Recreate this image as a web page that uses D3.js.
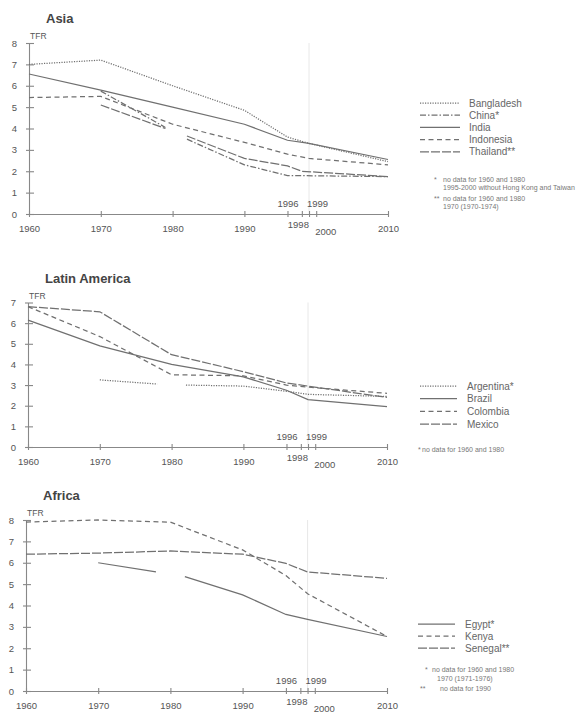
<!DOCTYPE html>
<html lang="en">
<head>
    <meta charset="UTF-8">
    <title>TFR Asia, Latin America, Africa</title>
    <style>
        body { margin: 0; background: #fff; }
        svg { font-family: "Liberation Sans", Arial, sans-serif; }
        .axis path, .axis line { stroke: #888; stroke-width: 1.1px; }
        .axis text { fill: #555; font-size: 9.5px; }
        .series { fill: none; stroke: #707070; stroke-width: 1.25px; }
        .title { font-size: 13px; font-weight: bold; fill: #444; }
        .tfr { font-size: 8.5px; fill: #555; }
        .legend text { font-size: 10px; fill: #666; }
        .note { font-size: 7px; fill: #777; }
    </style>
</head>
<body>
    <div id="chart"></div>
    <script src="https://cdn.jsdelivr.net/npm/d3@7"></script>
    <script>
        // ---- data ----
        const xTicks = [1960, 1970, 1980, 1990, 1996, 1998, 1999, 2000, 2010];
        const xLabels = [1960, 1970, 1980, 1990, 1996, 1998, 1999, 2000, 2010];

        const asiaNames = ["Bangladesh", "China*", "India", "Indonesia", "Thailand**"];
        const bangladesh = [[1960, 7.0], [1970, 7.2], [1980, 6.0], [1990, 4.85], [1996, 3.6], [1999, 3.3], [2010, 2.45]];
        const china = [[1970, 5.75], [1979, 4.05], null, [1982, 3.5], [1990, 2.3], [1996, 1.8], [2010, 1.75]];
        const india = [[1960, 6.55], [1970, 5.8], [1980, 5.0], [1990, 4.2], [1996, 3.45], [1999, 3.3], [2010, 2.55]];
        const indonesia = [[1960, 5.45], [1970, 5.5], [1980, 4.2], [1990, 3.35], [1996, 2.8], [1999, 2.6], [2010, 2.3]];
        const thailand = [[1970, 5.1], [1979, 4.0], null, [1982, 3.65], [1990, 2.6], [1996, 2.25], [1998, 2.0], [2010, 1.75]];
        const asiaNotes = [
            ["*", "no data for 1960 and 1980"],
            ["", "1995-2000 without Hong Kong and Taiwan"],
            ["**", "no data for 1960 and 1980"],
            ["", "1970 (1970-1974)"]
        ];

        const latinNames = ["Argentina*", "Brazil", "Colombia", "Mexico"];
        const argentina = [[1970, 3.25], [1978, 3.05], null, [1982, 3.0], [1990, 2.95], [1996, 2.7], [1999, 2.55], [2010, 2.45]];
        const brazil = [[1960, 6.15], [1970, 4.9], [1980, 4.0], [1990, 3.4], [1996, 2.75], [1999, 2.3], [2010, 1.95]];
        const colombia = [[1960, 6.8], [1970, 5.35], [1980, 3.5], [1990, 3.45], [1996, 3.0], [1999, 2.9], [2010, 2.6]];
        const mexico = [[1960, 6.8], [1970, 6.55], [1980, 4.47], [1990, 3.65], [1996, 3.1], [1999, 2.95], [2010, 2.4]];
        const latinNotes = [["*", "no data for 1960 and 1980"]];

        const africaNames = ["Egypt*", "Kenya", "Senegal**"];
        const egypt = [[1970, 6.0], [1978, 5.57], null, [1982, 5.35], [1990, 4.5], [1996, 3.58], [1999, 3.35], [2010, 2.55]];
        const kenya = [[1960, 7.9], [1970, 8.0], [1980, 7.9], [1990, 6.6], [1996, 5.4], [1999, 4.55], [2010, 2.55]];
        const senegal = [[1960, 6.4], [1970, 6.45], [1980, 6.55], [1990, 6.4], [1996, 5.97], [1999, 5.57], [2010, 5.27]];
        const africaNotes = [
            ["*", "no data for 1960 and 1980"],
            ["", "1970 (1971-1976)"],
            ["**", "no data for 1990"]
        ];

        // line looks
        const dash = {
            dotted: "1.2,1.3",
            dashdot: "6,2,1.5,2",
            solid: null,
            dashed: "5,3.5",
            longdash: "9,2"
        };

        const panels = [
            {
                title: "Asia", yMax: 8, x0: 29, x1: 388, yBase: 214, yTop: 43,
                names: asiaNames, series: [bangladesh, china, india, indonesia, thailand],
                looks: ["dotted", "dashdot", "solid", "dashed", "longdash"],
                legend: { lx: 420, lw: 40, tx: 469, y: 103, step: 12.2 },
                notes: asiaNotes, noteAt: { sx: 434, tx: 443, y: 182, step: [8, 10.5, 8] }
            },
            {
                title: "Latin America", yMax: 7, x0: 28, x1: 387, yBase: 447, yTop: 302.5,
                names: latinNames, series: [argentina, brazil, colombia, mexico],
                looks: ["dotted", "solid", "dashed", "longdash"],
                legend: { lx: 420, lw: 37, tx: 467, y: 386, step: 12.7 },
                notes: latinNotes, noteAt: { sx: 418, tx: 422, y: 452, step: [] }
            },
            {
                title: "Africa", yMax: 8, x0: 26, x1: 387, yBase: 691, yTop: 520,
                names: africaNames, series: [egypt, kenya, senegal],
                looks: ["solid", "dashed", "longdash"],
                legend: { lx: 418, lw: 37, tx: 465, y: 624, step: 12 },
                notes: africaNotes, noteAt: { sx: 425, tx: 432, y: 672, step: [9, 10] }
            }
        ];

        const svg = d3.select("#chart").append("svg")
            .attr("width", 582)
            .attr("height", 712);

        panels.forEach(p => drawPanel(p));

        function drawPanel(p) {
            const x = d3.scaleLinear().domain([1960, 2010]).range([p.x0, p.x1]);
            const y = d3.scaleLinear().domain([0, p.yMax]).range([p.yBase, p.yTop]);
            const g = svg.append("g");

            // faint guide at 1999
            g.append("line")
                .attr("x1", x(1999)).attr("x2", x(1999))
                .attr("y1", p.yTop).attr("y2", p.yBase)
                .attr("stroke", "#dedede").attr("stroke-width", 0.7);

            g.append("text").attr("class", "title")
                .attr("x", p.x0 + 17).attr("y", p.yTop - 20)
                .text(p.title);
            g.append("text").attr("class", "tfr")
                .attr("x", p.x0 + 1).attr("y", p.yTop - 4)
                .text("TFR");

            // y axis, ticks cross the line
            const yAxis = g.append("g").attr("class", "axis")
                .attr("transform", `translate(${p.x0},0)`)
                .call(d3.axisLeft(y).ticks(p.yMax).tickSizeOuter(0).tickPadding(9));
            yAxis.selectAll(".tick line").attr("x1", 5).attr("x2", -3);
            yAxis.selectAll(".tick text").attr("x", -12);

            // x axis
            const xAxis = g.append("g").attr("class", "axis")
                .attr("transform", `translate(0,${p.yBase})`)
                .call(d3.axisBottom(x).tickValues(xTicks).tickSizeOuter(0)
                    .tickFormat(d => xLabels.includes(d) ? d : ""));
            xAxis.selectAll(".tick line").attr("y1", -3).attr("y2", 3);
            xAxis.selectAll(".tick text")
                .attr("y", d => d === 1996 || d === 1999 ? -14 : (d === 1998 ? 7 : 11))
                .attr("dx", d => d === 1999 ? 8 : (d === 2000 ? 9 : (d === 1998 ? -4 : 0)))
                .attr("dy", d => d === 2000 ? "1.0em" : "0.71em");

            const line = d3.line()
                .defined(d => d !== null)
                .x(d => x(d[0]))
                .y(d => y(d[1]));

            g.selectAll(".series")
                .data(p.series)
                .enter().append("path")
                .attr("class", "series")
                .attr("d", line)
                .attr("stroke-dasharray", (d, i) => dash[p.looks[i]]);

            // legend
            const L = p.legend;
            const item = g.append("g").attr("class", "legend")
                .selectAll("g")
                .data(p.names)
                .enter().append("g")
                .attr("transform", (d, i) => `translate(0,${L.y + i * L.step})`);
            item.append("line")
                .attr("x1", L.lx).attr("x2", L.lx + L.lw)
                .attr("stroke", "#707070").attr("stroke-width", 1.25)
                .attr("stroke-dasharray", (d, i) => dash[p.looks[i]]);
            item.append("text")
                .attr("x", L.tx).attr("y", 3.5)
                .text(d => d);

            // footnotes
            let ny = p.noteAt.y;
            p.notes.forEach((n, i) => {
                if (i > 0) ny += p.noteAt.step[i - 1];
                if (n[0]) {
                    g.append("text").attr("class", "note")
                        .attr("x", p.noteAt.sx - (n[0] === "**" && p.title === "Africa" ? 5 : 0))
                        .attr("y", ny).text(n[0]);
                }
                let tx = p.noteAt.tx;
                if (p.title === "Africa") tx += n[0] === "*" ? 0 : (n[0] === "**" ? 8 : 5);
                g.append("text").attr("class", "note")
                    .attr("x", tx).attr("y", ny)
                    .text(n[1]);
            });
        }
    </script>
</body>
</html>
